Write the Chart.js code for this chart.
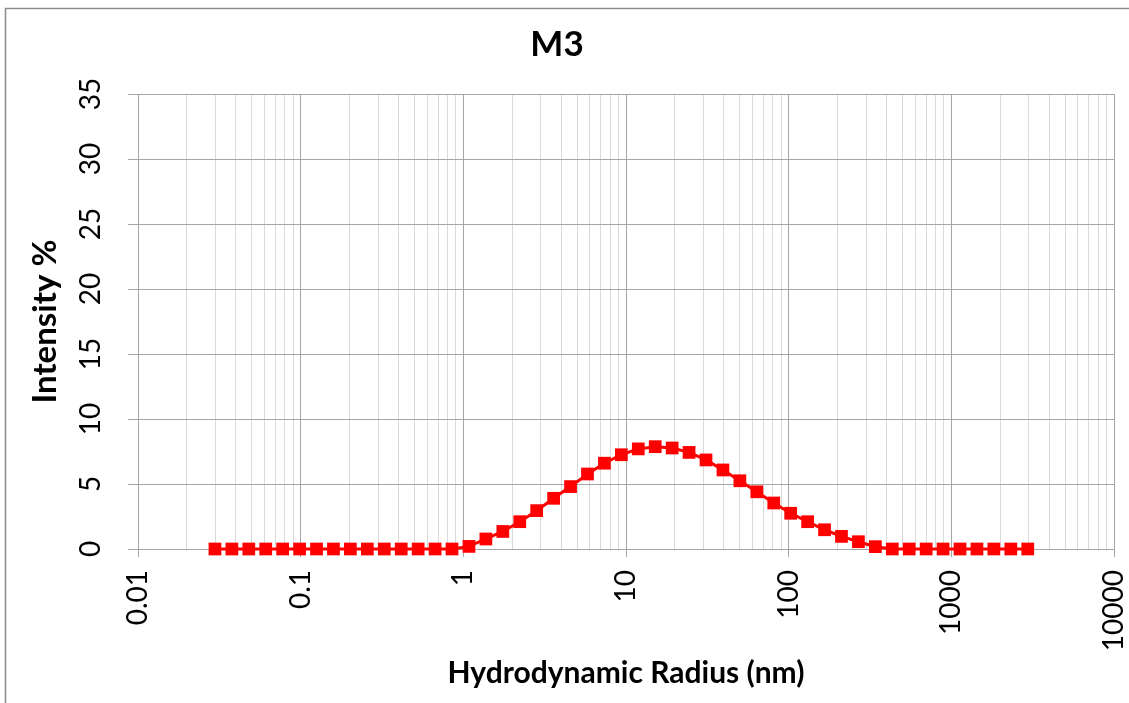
<!DOCTYPE html>
<html><head><meta charset="utf-8">
<script src="https://cdn.jsdelivr.net/npm/chart.js@4.4.1/dist/chart.umd.min.js"></script>
<style>html,body{margin:0;padding:0;background:#fff;overflow:hidden}</style>
</head><body>
<canvas id="c" width="1129" height="703"></canvas>
<script>
const chartTitle = "M3";
const xAxisTitle = "Hydrodynamic Radius (nm)";
const yAxisTitle = "Intensity %";
const radiusNm = [0.02972, 0.03777, 0.04799, 0.06099, 0.07751, 0.09851, 0.1252, 0.1591, 0.2021, 0.2570,
  0.3266, 0.4150, 0.5275, 0.6704, 0.8519, 1.083, 1.376, 1.749, 2.223, 2.824,
  3.589, 4.562, 5.798, 7.368, 9.363, 11.90, 15.12, 19.22, 24.42, 31.04,
  39.45, 50.13, 63.71, 80.96, 102.9, 130.8, 166.2, 211.2, 268.4, 341.1,
  433.5, 550.9, 700.1, 889.8, 1131, 1437, 1826, 2321, 2950];
const intensityPct = [0, 0, 0, 0, 0, 0, 0, 0, 0, 0,
  0, 0, 0, 0, 0, 0.2, 0.77, 1.35, 2.1, 2.95,
  3.9, 4.8, 5.77, 6.6, 7.25, 7.7, 7.87, 7.77, 7.43, 6.85,
  6.08, 5.25, 4.4, 3.54, 2.75, 2.1, 1.48, 0.97, 0.56, 0.18,
  0, 0, 0, 0, 0, 0, 0, 0, 0];
const xTickLabels = ["0.01", "0.1", "1", "10", "100", "1000", "10000"];
const yTickLabels = ["0", "5", "10", "15", "20", "25", "30", "35"];

const decades = xTickLabels.map(parseFloat);
const xGridValues = [];
decades.forEach((d, k) => {
  for (let m = 1; m <= 9; m++) {
    if (k === decades.length - 1 && m > 1) break;
    xGridValues.push(d * m);
  }
});
function isDecade(v) {
  const l = Math.log10(v);
  return Math.abs(l - Math.round(l)) < 1e-9;
}
function decadeLabel(v) {
  const lbl = xTickLabels.find(s => Math.abs(Math.log10(parseFloat(s)) - Math.log10(v)) < 1e-9);
  return lbl || '';
}

const framePlugin = {
  id: 'frame',
  beforeDraw(chart) {
    const ctx = chart.ctx;
    ctx.save();
    ctx.fillStyle = '#ffffff';
    ctx.fillRect(0, 0, chart.width, chart.height);
    ctx.strokeStyle = '#8c8c8c';
    ctx.lineWidth = 1.5;
    ctx.strokeRect(5.5, 8.5, chart.width + 20, chart.height + 20);
    ctx.restore();
  }
};

new Chart(document.getElementById('c'), {
  type: 'line',
  data: {
    datasets: [{
      label: chartTitle,
      data: radiusNm.map((r, i) => ({ x: r, y: intensityPct[i] })),
      borderColor: '#ff0000',
      backgroundColor: '#ff0000',
      borderWidth: 3,
      pointStyle: 'rect',
      pointRadius: 9,
      pointHoverRadius: 9,
      pointBackgroundColor: '#ff0000',
      pointBorderColor: '#ff0000',
      pointBorderWidth: 0,
      tension: 0,
      clip: false
    }]
  },
  options: {
    responsive: false,
    animation: false,
    devicePixelRatio: 1,
    layout: { padding: { left: 0, right: 15, top: 0, bottom: 0 } },
    plugins: {
      legend: { display: false },
      tooltip: { enabled: false },
      title: {
        display: true,
        text: chartTitle,
        color: '#000',
        font: { family: 'Lato', size: 35, weight: 'bold' },
        padding: { top: 24, bottom: 28 }
      }
    },
    scales: {
      x: {
        type: 'logarithmic',
        min: 0.01,
        max: 10000,
        afterBuildTicks: (scale) => { scale.ticks = xGridValues.map(v => ({ value: v })); },
        afterFit: (scale) => { scale.height = 154; scale.paddingLeft = 0; scale.paddingRight = 0; },
        grid: {
          color: (c) => (c.tick && isDecade(c.tick.value)) ? '#a6a6a6' : '#d9d9d9',
          tickColor: (c) => (c.tick && isDecade(c.tick.value)) ? '#a6a6a6' : 'rgba(0,0,0,0)',
          tickLength: 8,
          lineWidth: 1
        },
        border: { display: true, color: '#a6a6a6', width: 1 },
        ticks: {
          autoSkip: false,
          minRotation: 90,
          maxRotation: 90,
          padding: 13,
          color: '#000',
          font: { family: 'Lato', size: 28 },
          callback: (v) => decadeLabel(v)
        },
        title: {
          display: true,
          text: xAxisTitle,
          color: '#000',
          font: { family: 'Lato', size: 30, weight: 'bold' },
          padding: { top: 0, bottom: 12 }
        }
      },
      y: {
        type: 'linear',
        min: 0,
        max: 35,
        afterFit: (scale) => { scale.width = 138; },
        grid: { color: '#a6a6a6', tickColor: '#a6a6a6', tickLength: 10, lineWidth: 1 },
        border: { display: true, color: '#a6a6a6', width: 1 },
        ticks: {
          stepSize: 5,
          minRotation: 90,
          maxRotation: 90,
          crossAlign: 'center',
          padding: 21,
          color: '#000',
          font: { family: 'Lato', size: 28 },
          callback: (v) => { const s = yTickLabels.find(t => parseFloat(t) === v); return s === undefined ? '' : s; }
        },
        title: {
          display: true,
          text: yAxisTitle,
          color: '#000',
          font: { family: 'Lato', size: 33, weight: 'bold' },
          padding: { top: 26, bottom: 0 }
        }
      }
    }
  },
  plugins: [framePlugin]
});
</script>
</body></html>
